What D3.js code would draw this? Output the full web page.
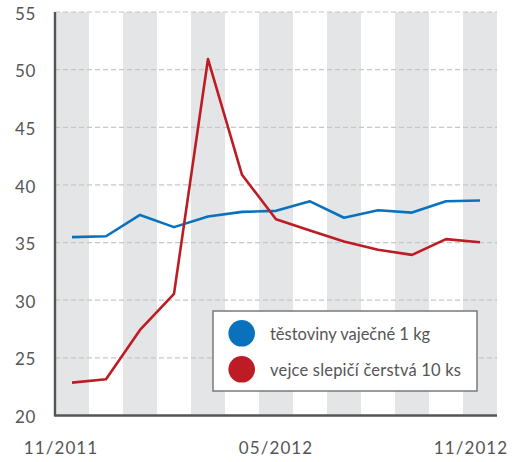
<!DOCTYPE html>
<html><head><meta charset="utf-8">
<script src="https://cdn.jsdelivr.net/npm/d3@7"></script>
<style>
html,body{margin:0;padding:0;background:#fff;}
svg{display:block;}
</style></head>
<body>
<svg id="chart" width="514" height="462"></svg>
<script>
const months = ["11/2011","12/2011","01/2012","02/2012","03/2012","04/2012","05/2012","06/2012","07/2012","08/2012","09/2012","10/2012","11/2012"];
const xTickLabels = ["11/2011","05/2012","11/2012"];
const yTicks = [20,25,30,35,40,45,50,55];
const seriesNames = ["těstoviny vaječné 1 kg","vejce slepičí čerstvá 10 ks"];
const testoviny = [35.47,35.55,37.4,36.34,37.26,37.66,37.75,38.58,37.15,37.8,37.6,38.58,38.65];
const vejce = [22.85,23.14,27.42,30.55,50.92,40.88,37.03,36.04,35.09,34.37,33.93,35.3,35.03];
const colors = ["#0a72bd","#be1c24"];

const svg = d3.select("#chart");
const mLeft = 55, mRight = 497, mTop = 12, mBottom = 415.5;
const x = d3.scaleBand().domain(months).range([mLeft, mRight]).padding(0);
const y = d3.scaleLinear().domain([20,55]).range([mBottom, mTop]);
const cx = m => x(m) + x.bandwidth()/2;

// bands
svg.append("g").selectAll("rect").data(months.filter((m,i)=>i%2===0)).join("rect")
  .attr("x", d=>x(d)).attr("y", mTop).attr("width", x.bandwidth()).attr("height", mBottom-mTop)
  .attr("fill", "#e4e5e7");

// gridlines
svg.append("g").selectAll("line").data(yTicks.filter(t=>t>20)).join("line")
  .attr("x1", mLeft).attr("x2", mRight).attr("y1", d=>y(d)).attr("y2", d=>y(d))
  .attr("stroke", "#c6c6c6").attr("stroke-width", 1.2).attr("stroke-dasharray", "5,3");

// y axis labels
const yAxis = svg.append("g").attr("transform", `translate(${mLeft},0)`)
  .call(d3.axisLeft(y).tickValues(yTicks).tickSize(0).tickPadding(19).tickFormat(d3.format("d")));
yAxis.select(".domain").remove();
yAxis.selectAll("text").attr("font-family","Lato").attr("font-size","17px").attr("fill","#555")
  .attr("letter-spacing","0.6px").attr("dy","0.42em");

// x axis labels
const xOffsets = {"11/2011":-11, "05/2012":0, "11/2012":-9};
const xAxis = svg.append("g").attr("transform", `translate(0,${mBottom})`)
  .call(d3.axisBottom(x).tickValues(xTickLabels).tickSize(0).tickPadding(26));
xAxis.select(".domain").remove();
xAxis.selectAll("text").attr("font-family","Lato").attr("font-size","17px").attr("fill","#555")
  .attr("letter-spacing","1.1px").attr("dx", d=>xOffsets[d]);

// axis lines
svg.append("line").attr("x1", mLeft).attr("x2", mLeft).attr("y1", mTop).attr("y2", mBottom+1)
  .attr("stroke", "#555").attr("stroke-width", 2.4);
svg.append("line").attr("x1", mLeft).attr("x2", mRight).attr("y1", mBottom).attr("y2", mBottom)
  .attr("stroke", "#555").attr("stroke-width", 2.4);

// lines
const line = d3.line().x((d,i)=>cx(months[i])).y(d=>y(d));
[testoviny, vejce].forEach((s,k)=>{
  svg.append("path").datum(s).attr("d", line).attr("fill","none")
    .attr("stroke", colors[k]).attr("stroke-width", 2.6).attr("stroke-linejoin","round");
});

// legend
const lg = svg.append("g");
lg.append("rect").attr("x", 213).attr("y", 311).attr("width", 264).attr("height", 80)
  .attr("fill", "#fff").attr("stroke", "#7a7a7a").attr("stroke-width", 1.5);
seriesNames.forEach((n,k)=>{
  const yy = 333.3 + k*36;
  lg.append("circle").attr("cx", 241.7).attr("cy", yy).attr("r", 13.3).attr("fill", colors[k]);
  lg.append("text").attr("x", 270).attr("y", yy+7).text(n)
    .attr("font-family","Lato").attr("font-size","16.5px").attr("fill","#555")
    .attr("letter-spacing", k===1 ? "0.2px" : "0px");
});
</script>
</body></html>
